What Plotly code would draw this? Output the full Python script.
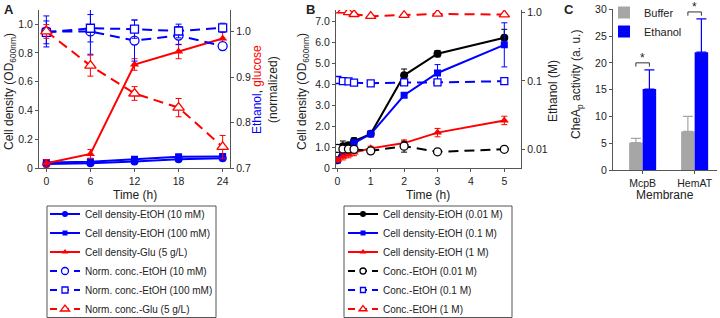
import plotly.graph_objects as go

W, H = 720, 318

# ---------------- Panel A data ----------------
time_a = [0, 6, 12, 18, 24]
cd_etoh10 = [0.030, 0.035, 0.048, 0.062, 0.070]
cd_etoh10_err = [0.010, 0.010, 0.010, 0.010, 0.010]
cd_etoh100 = [0.040, 0.045, 0.062, 0.080, 0.082]
cd_etoh100_err = [0.010, 0.010, 0.010, 0.010, 0.010]
cd_glu = [0.035, 0.100, 0.720, 0.810, 0.900]
cd_glu_err = [0.025, 0.030, 0.040, 0.050, 0.050]
norm_etoh10 = [1.000, 1.000, 0.980, 0.991, 0.968]
norm_etoh10_err = [0.034, 0.050, 0.045, 0.020, 0.008]
norm_etoh100 = [0.998, 1.007, 1.005, 1.001, 1.008]
norm_etoh100_err = [0.025, 0.030, 0.020, 0.015, 0.010]
norm_glu = [1.000, 0.925, 0.864, 0.833, 0.747]
norm_glu_err = [0.015, 0.023, 0.015, 0.020, 0.025]
a_left_ticks = [0, 0.2, 0.4, 0.6, 0.8, 1.0]
a_left_labels = ["0", "0.2", "0.4", "0.6", "0.8", "1.0"]
a_right_ticks = [0.7, 0.8, 0.9, 1.0]
a_right_labels = ["0.7", "0.8", "0.9", "1.0"]

# ---------------- Panel B data ----------------
time_b = [0, 0.167, 0.333, 0.5, 1, 2, 3, 5]
cd_001 = [0.38, 1.05, 1.10, 1.30, 1.64, 4.43, 5.46, 6.22]
cd_001_err = [0.05, 0.25, 0.10, 0.15, 0.10, 0.30, 0.15, 0.40]
cd_01 = [0.40, 0.75, 0.85, 1.20, 1.63, 3.48, 4.54, 5.88]
cd_01_err = [0.05, 0.15, 0.10, 0.15, 0.10, 0.10, 0.40, 1.05]
cd_1 = [0.40, 0.55, 0.65, 0.75, 0.95, 1.20, 1.70, 2.28]
cd_1_err = [0.10, 0.15, 0.15, 0.15, 0.10, 0.15, 0.20, 0.20]
conc_001 = [0.0102, 0.0100, 0.0100, 0.0099, 0.0094, 0.0110, 0.0091, 0.0099]
conc_001_err = [0.0003, 0.0003, 0.0003, 0.0003, 0.0004, 0.0020, 0.0004, 0.0003]
conc_01 = [0.103, 0.099, 0.098, 0.094, 0.092, 0.095, 0.095, 0.099]
conc_01_err = [0.002, 0.002, 0.002, 0.002, 0.002, 0.002, 0.002, 0.002]
conc_1 = [1.07, 1.08, 1.01, 0.95, 0.89, 0.92, 0.96, 0.94]
conc_1_err = [0.03, 0.03, 0.03, 0.03, 0.03, 0.03, 0.03, 0.03]
b_left_ticks = [0, 1, 2, 3, 4, 5, 6, 7]
b_left_labels = ["0", "1.0", "2.0", "3.0", "4.0", "5.0", "6.0", "7.0"]
b_right_ticks = [0.01, 0.1, 1]
b_right_labels = ["0.01", "0.1", "1.0"]

# ---------------- Panel C data ----------------
membranes = ["McpB", "HemAT"]
buffer_act = [5.1, 7.2]
buffer_err = [0.8, 2.8]
ethanol_act = [15.1, 22.0]
ethanol_err = [3.6, 6.2]
c_ticks = [0, 5, 10, 15, 20, 25, 30]

BLUE = "#0000ff"
RED = "#ff0000"
BLACK = "#000000"
GREY = "#a6a6a6"
AX = "#555555"
TXT = "#222222"
FONT = "Liberation Sans, Arial, sans-serif"

fig = go.Figure()


def mk(symbol, size, color, filled):
    if filled:
        return dict(symbol=symbol, size=size, color=color, line=dict(width=0))
    return dict(symbol=symbol, size=size, color="white", line=dict(color=color, width=1.3))


def add_series(x, y, err, name, color, symbol, filled, dashed, xa, ya, legend, size):
    fig.add_trace(go.Scatter(
        x=x, y=y, name=name, mode="lines+markers", showlegend=False,
        line=dict(color=color, width=2, dash="10px,6px" if dashed else "solid"),
        marker=mk(symbol, size, color, filled),
        error_y=dict(type="data", array=err, color=color, thickness=1, width=3),
        xaxis=xa, yaxis=ya, legend=legend,
    ))
    # legend key (no data, only the key style)
    fig.add_trace(go.Scatter(
        x=[None], y=[None], name=name, mode="lines+markers", showlegend=True,
        line=dict(color=color, width=2, dash="7px,5px" if dashed else "solid"),
        marker=mk(symbol, size - 2, color, filled),
        xaxis=xa, yaxis=ya, legend=legend, hoverinfo="skip",
    ))


# Panel A
add_series(time_a, cd_etoh10, cd_etoh10_err, "Cell density-EtOH (10 mM)", BLUE, "circle", True, False, "x", "y", "legend", 8)
add_series(time_a, cd_etoh100, cd_etoh100_err, "Cell density-EtOH (100 mM)", BLUE, "square", True, False, "x", "y", "legend", 7)
add_series(time_a, cd_glu, cd_glu_err, "Cell density-Glu (5 g/L)", RED, "triangle-up", True, False, "x", "y", "legend", 8)
add_series(time_a, norm_etoh10, norm_etoh10_err, "Norm. conc.-EtOH (10 mM)", BLUE, "circle", False, True, "x", "y2", "legend", 9)
add_series(time_a, norm_etoh100, norm_etoh100_err, "Norm. conc.-EtOH (100 mM)", BLUE, "square", False, True, "x", "y2", "legend", 8)
add_series(time_a, norm_glu, norm_glu_err, "Norm. conc.-Glu (5 g/L)", RED, "triangle-up", False, True, "x", "y2", "legend", 10)

# Panel B
add_series(time_b, cd_001, cd_001_err, "Cell density-EtOH (0.01 M)", BLACK, "circle", True, False, "x2", "y3", "legend2", 8)
add_series(time_b, cd_01, cd_01_err, "Cell density-EtOH (0.1 M)", BLUE, "square", True, False, "x2", "y3", "legend2", 7)
add_series(time_b, cd_1, cd_1_err, "Cell density-EtOH (1 M)", RED, "triangle-up", True, False, "x2", "y3", "legend2", 8)
add_series(time_b, conc_001, conc_001_err, "Conc.-EtOH (0.01 M)", BLACK, "circle", False, True, "x2", "y4", "legend2", 8)
add_series(time_b, conc_01, conc_01_err, "Conc.-EtOH (0.1 M)", BLUE, "square", False, True, "x2", "y4", "legend2", 7)
add_series(time_b, conc_1, conc_1_err, "Conc.-EtOH (1 M)", RED, "triangle-up", False, True, "x2", "y4", "legend2", 9)

# Panel C (numeric positions derived from the category list)
c_pos = list(range(len(membranes)))
fig.add_trace(go.Bar(
    x=c_pos, y=buffer_act, name="Buffer", marker=dict(color=GREY, line=dict(width=0)),
    error_y=dict(type="data", symmetric=False, array=buffer_err, arrayminus=[0] * len(buffer_err),
                 color=GREY, thickness=1.2, width=5),
    xaxis="x3", yaxis="y5", legend="legend3",
))
fig.add_trace(go.Bar(
    x=c_pos, y=ethanol_act, name="Ethanol", marker=dict(color=BLUE, line=dict(width=0)),
    error_y=dict(type="data", symmetric=False, array=ethanol_err, arrayminus=[0] * len(ethanol_err),
                 color=BLUE, thickness=1.2, width=5),
    xaxis="x3", yaxis="y5", legend="legend3",
))

common = dict(showline=True, linecolor=AX, linewidth=1.2, ticks="outside", ticklen=3,
              tickwidth=1, tickcolor=AX, showgrid=False, zeroline=False,
              tickfont=dict(size=10.5, color=TXT, family=FONT))

plot_top = 10
plot_bot = 168.3

layout = dict(
    width=W, height=H,
    margin=dict(l=0, r=0, t=0, b=0, autoexpand=False),
    paper_bgcolor="white", plot_bgcolor="white",
    font=dict(family=FONT, color=TXT),
    barmode="group", bargap=0.48, bargroupgap=0,
    xaxis=dict(domain=[39 / W, 230 / W], range=[-1, 25], tickvals=time_a, anchor="y", **common),
    yaxis=dict(domain=[1 - plot_bot / H, 1 - plot_top / H], range=[0, 1.098],
               tickvals=a_left_ticks, ticktext=a_left_labels, anchor="x", **common),
    yaxis2=dict(overlaying="y", side="right", anchor="x", range=[0.7, 1.047],
                tickvals=a_right_ticks, ticktext=a_right_labels, **common),
    xaxis2=dict(domain=[336 / W, 521 / W], range=[-0.04, 5.5], tickvals=[0, 1, 2, 3, 4, 5],
                anchor="y3", **common),
    yaxis3=dict(domain=[1 - plot_bot / H, 1 - plot_top / H], range=[0, 7.54],
                tickvals=b_left_ticks, ticktext=b_left_labels, anchor="x2", **common),
    yaxis4=dict(overlaying="y3", side="right", anchor="x2", type="log", range=[-2.283, 0.04],
                tickvals=b_right_ticks, ticktext=b_right_labels, **common),
    xaxis3=dict(domain=[613 / W, 717 / W], range=[-0.57, 1.43], tickvals=c_pos, ticktext=membranes,
                anchor="y5", **common),
    yaxis5=dict(domain=[1 - 170 / H, 1 - 9 / H], range=[0, 30.05], tickvals=c_ticks, anchor="x3", **common),
    legend=dict(x=45 / W, y=1 - 199.5 / H, xanchor="left", yanchor="top", bgcolor="rgba(0,0,0,0)",
                borderwidth=0, font=dict(size=10, color=TXT, family=FONT), itemwidth=30, traceorder="normal"),
    legend2=dict(x=343 / W, y=1 - 199.5 / H, xanchor="left", yanchor="top", bgcolor="rgba(0,0,0,0)",
                 borderwidth=0, font=dict(size=10, color=TXT, family=FONT), itemwidth=30, traceorder="normal"),
    legend3=dict(x=604 / W, y=1 + 2 / H, xanchor="left", yanchor="top", bgcolor="rgba(0,0,0,0)",
                 borderwidth=0, font=dict(size=11, color=TXT, family=FONT), itemwidth=30, traceorder="normal"),
)
fig.update_layout(**layout)

# Legend frames
for x0, x1 in [(47, 216), (344, 512)]:
    fig.add_shape(type="rect", xref="paper", yref="paper", x0=x0 / W, x1=x1 / W,
                  y0=1 - 317.5 / H, y1=1 - 206 / H, line=dict(color=AX, width=1), fillcolor="rgba(0,0,0,0)")

# Significance brackets (Panel C), placed just above the ethanol error bars
for i in c_pos:
    level = ethanol_act[i] + ethanol_err[i] + 1.3
    xl, xr = i - 0.13, i + 0.13
    for (a0, b0, a1, b1) in [(xl, level, xr, level), (xl, level - 0.7, xl, level), (xr, level - 0.7, xr, level)]:
        fig.add_shape(type="line", xref="x3", yref="y5", x0=a0, y0=b0, x1=a1, y1=b1,
                      line=dict(color="#333333", width=1))
    fig.add_annotation(x=i, y=level, xref="x3", yref="y5", text="*", showarrow=False,
                       yanchor="bottom", yshift=-4, font=dict(size=12, color=TXT, family=FONT))

TF = dict(size=12, color=TXT, family=FONT)


def ann(x, y, text, angle=0, size=12, bold=False, xanchor="center", yanchor="middle"):
    f = dict(TF)
    f["size"] = size
    if bold:
        text = "<b>" + text + "</b>"
    fig.add_annotation(x=x / W, y=1 - y / H, xref="paper", yref="paper", text=text, showarrow=False,
                       textangle=angle, xanchor=xanchor, yanchor=yanchor, font=f)


# panel letters
ann(2, 0, "A", size=13, bold=True, xanchor="left", yanchor="top")
ann(304, 0, "B", size=13, bold=True, xanchor="left", yanchor="top")
ann(562, 0, "C", size=13, bold=True, xanchor="left", yanchor="top")

# axis titles
ann(10, 92, "Cell density (OD<sub>600nm</sub>)", angle=-90)
ann(134.5, 195, "Time (h)")
ann(265, 90, "<span style='color:#0000ff'>Ethanol</span>, <span style='color:#ff0000'>glucose</span><br>(normalized)", angle=-90)
ann(303, 92, "Cell density (OD<sub>600nm</sub>)", angle=-90)
ann(428, 195, "Time (h)")
ann(553, 91, "Ethanol (M)", angle=-90)
ann(577, 85, "CheA<sub>p</sub> activity (a. u.)", angle=-90)
ann(665, 195, "Membrane")

fig.write_html("out.html", config={"displayModeBar": False},
               post_script="document.body.style.margin='0';")
